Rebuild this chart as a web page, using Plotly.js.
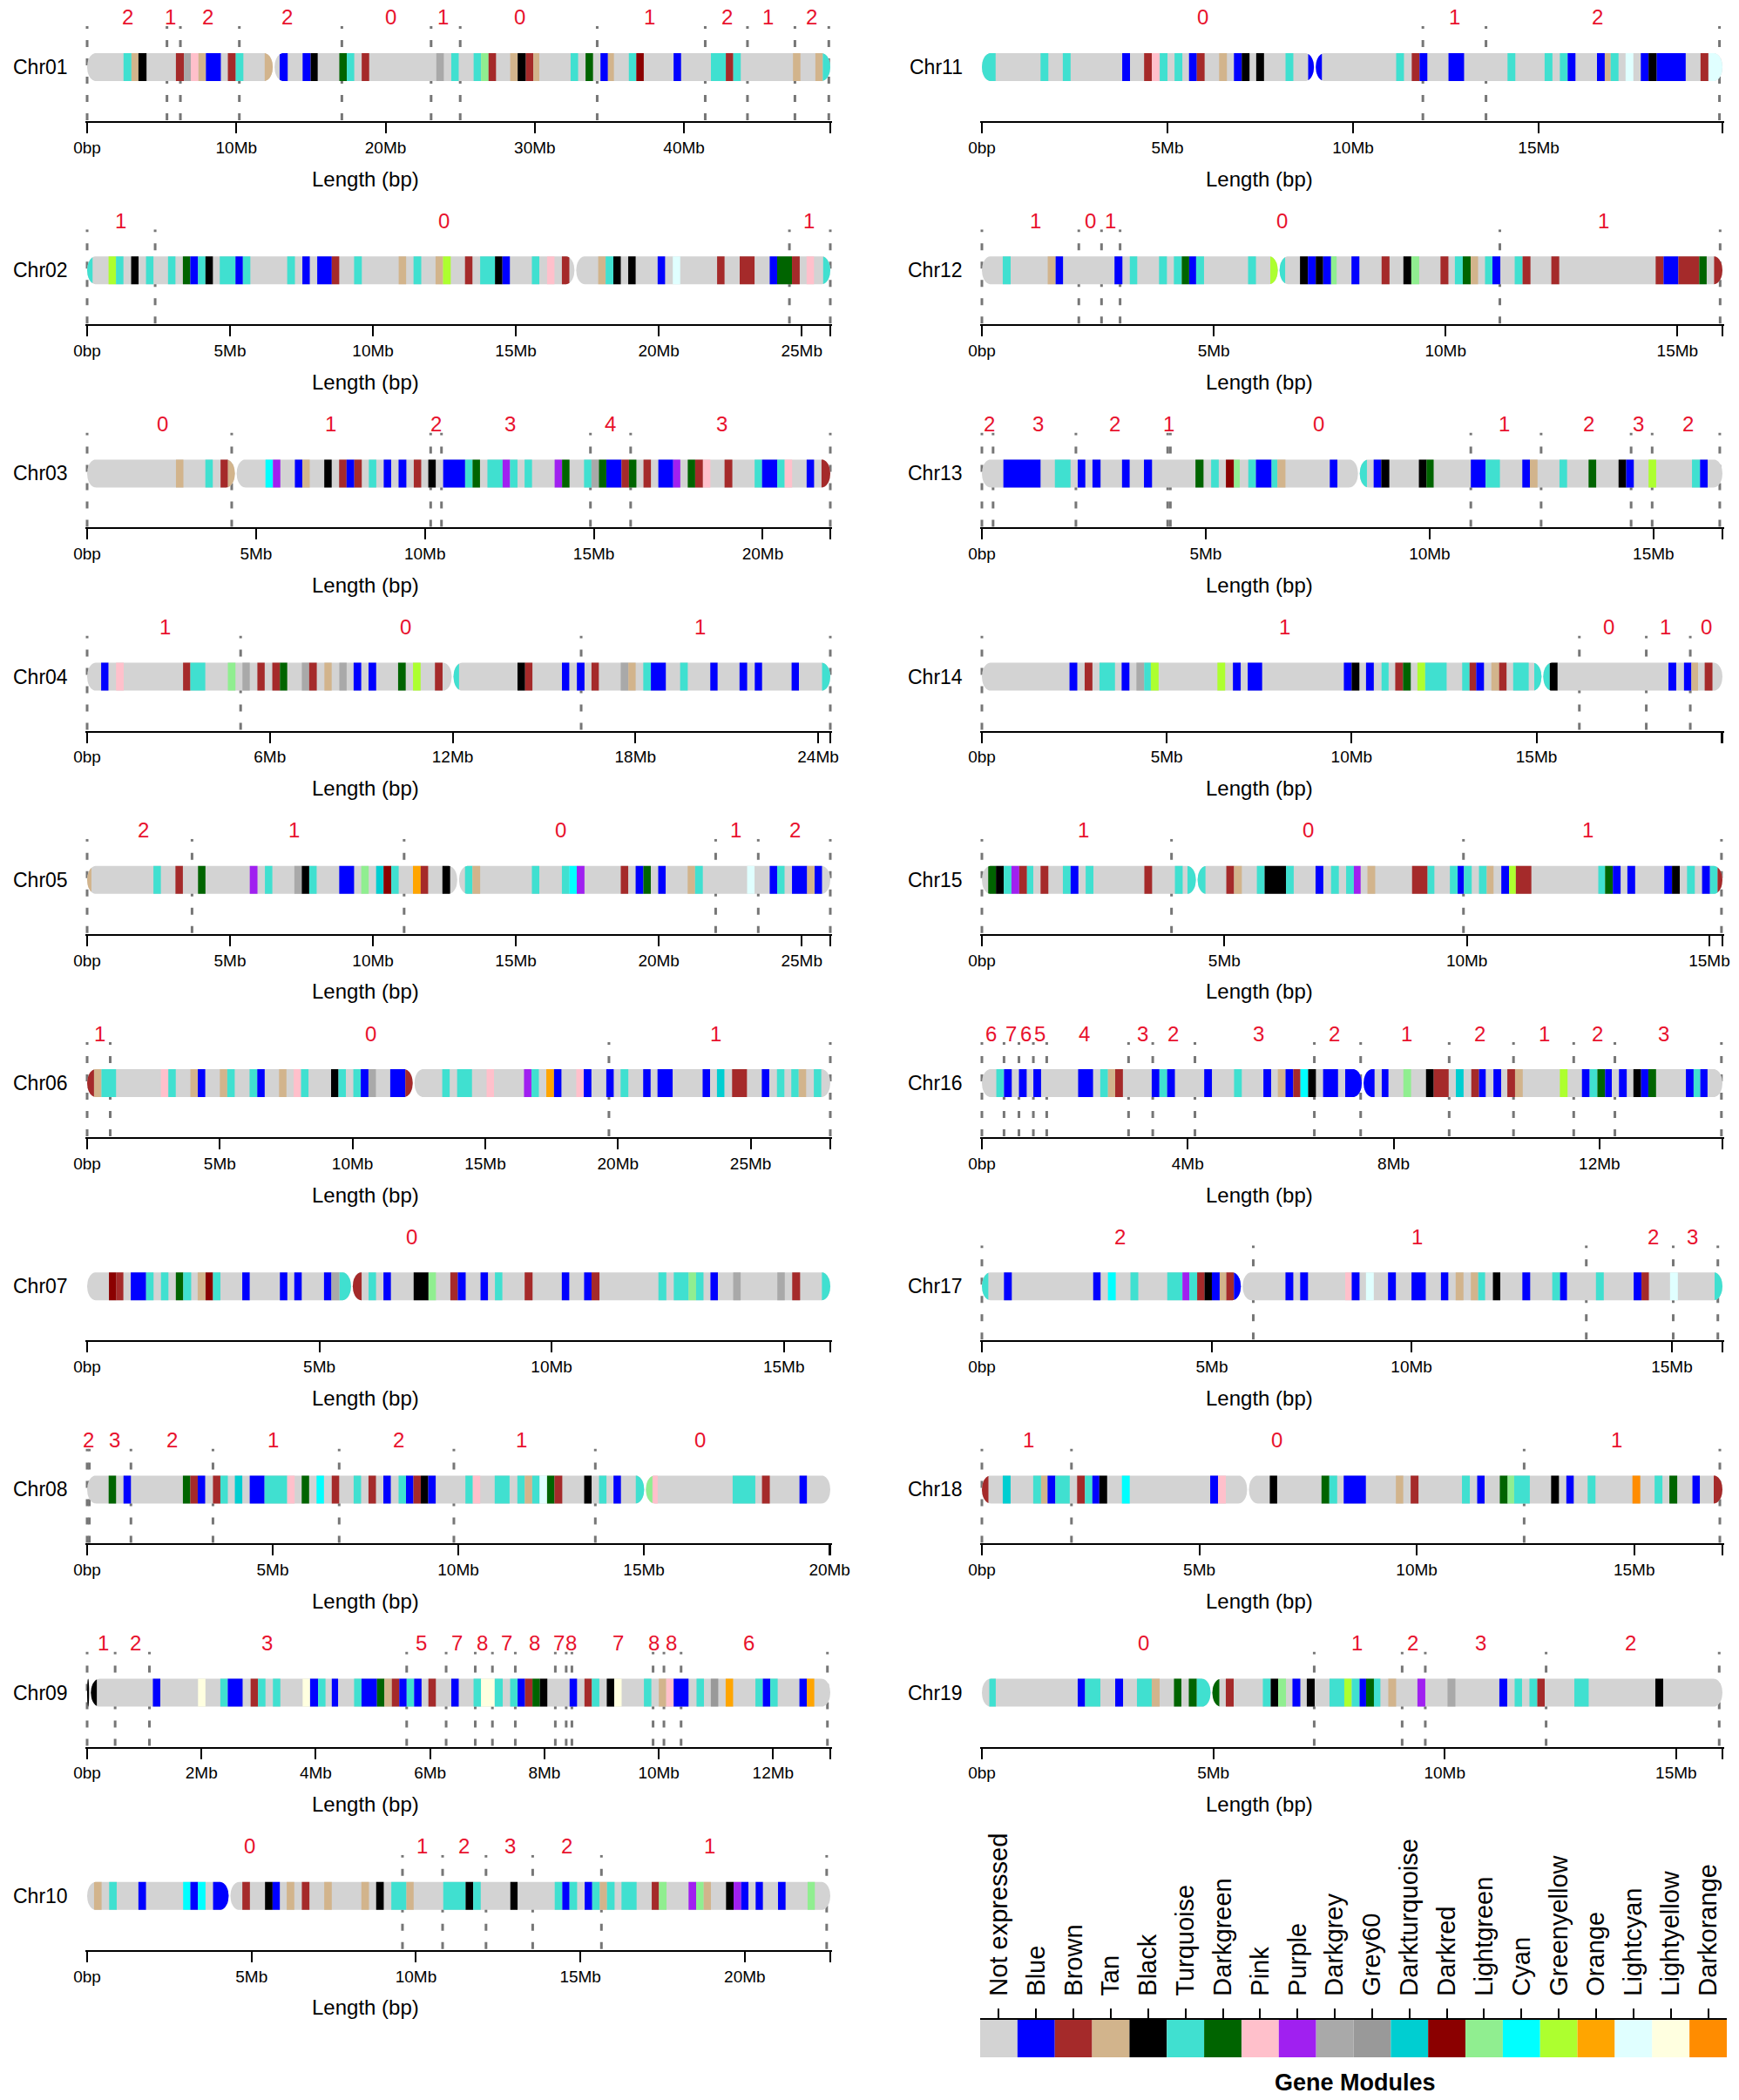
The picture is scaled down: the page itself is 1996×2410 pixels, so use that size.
<!DOCTYPE html>
<html><head><meta charset="utf-8">
<script src="https://cdn.plot.ly/plotly-3.0.1.min.js"></script>
<style>html,body{margin:0;padding:0;background:#fff}</style>
</head><body><div id="chart" style="width:1996px;height:2410px"></div>
<script>
// ---------------- data ----------------
const moduleNames = ['Not expressed','Blue','Brown','Tan','Black','Turquoise','Darkgreen','Pink','Purple','Darkgrey','Grey60','Darkturquoise','Darkred','Lightgreen','Cyan','Greenyellow','Orange','Lightcyan','Lightyellow','Darkorange'];
const moduleColors = ['#D3D3D3','#0000FF','#A52A2A','#D2B48C','#000000','#40E0D0','#006400','#FFC0CB','#A020F0','#A9A9A9','#999999','#00CED1','#8B0000','#90EE90','#00FFFF','#ADFF2F','#FFA500','#E0FFFF','#FFFFE0','#FF8C00'];
const moduleKeys = ['-','B','N','T','K','Q','G','P','U','D','Y','X','R','L','C','Z','O','I','W','A'];

const chrNames = ['Chr01','Chr02','Chr03','Chr04','Chr05','Chr06','Chr07','Chr08','Chr09','Chr10','Chr11','Chr12','Chr13','Chr14','Chr15','Chr16','Chr17','Chr18','Chr19'];
const chrLengthsMb = [49.8,26.0,22.0,24.4,26.0,28.0,16.0,20.02,13.0,22.6,19.95,15.97,16.54,20.03,15.27,14.39,16.1,17.03,16.0];
const centromeresMb = [12.5,17.08,4.4,12.0,12.98,12.3,5.7,15.03,0.05,4.33,8.97,6.4,8.42,15.16,4.43,7.4,5.65,6.12,4.96];
const tickStepMb = [10,5,5,6,5,5,5,5,2,5,5,5,5,5,5,4,5,5,5];
// Chr17 tick marks as drawn in the source figure
const chr17TicksMb = [0, 5, 9.34, 15];
const chr17TickText = ['0bp', '5Mb', '10Mb', '15Mb'];

// dashed boundary positions (Mb)
const boundariesMb = [
 [0,5.35,6.25,10.2,17.07,23.05,25.0,34.18,41.42,44.25,47.43,49.7],
 [0,2.38,24.57,26.0],
 [0,4.28,10.17,10.49,14.9,16.09,22.0],
 [0,5.04,16.22,24.4],
 [0,3.67,11.09,21.99,23.48,26.0],
 [0,0.87,19.66,28.0],
 [],
 [0,0.06,1.18,3.39,6.79,9.88,13.69],
 [0,0.49,1.09,5.59,6.28,6.79,7.09,7.49,8.19,8.38,8.48,9.9,10.09,10.39,12.95],
 [9.59,10.81,12.13,13.55,15.64,22.49],
 [11.88,13.58,19.87],
 [0,2.09,2.58,2.98,11.17,15.92],
 [0,0.25,2.1,4.15,4.21,10.92,12.49,14.5,14.97,16.48],
 [0,16.16,17.97,19.16],
 [0,3.91,9.93,15.25],
 [0,0.43,0.72,1.0,1.26,2.85,3.32,4.14,6.46,7.36,9.08,10.33,11.5,12.3,14.37],
 [0,5.9,13.14,15.03,16.0],
 [0,2.06,12.47,16.97],
 [7.18,9.08,9.58,12.19,15.93]
];
// red segment numbers and their positions (Mb)
const segmentCounts = [
 [2,1,2,2,0,1,0,1,2,1,2],[1,0,1],[0,1,2,3,4,3],[1,0,1],[2,1,0,1,2],[1,0,1],[0],
 [2,3,2,1,2,1,0],[1,2,3,5,7,8,7,8,7,8,7,8,8,6],[0,1,2,3,2,1],[0,1,2],[1,0,1,0,1],
 [2,3,2,1,0,1,2,3,2],[1,0,1,0],[1,0,1],[6,7,6,5,4,3,2,3,2,1,2,1,2,3],[2,1,2,3],[1,0,1],[0,1,2,3,2]
];
const segmentPosMb = [
 [2.69,5.59,8.1,13.37,20.36,23.87,28.96,37.67,42.87,45.63,48.57],
 [1.16,12.47,25.24],
 [2.22,7.21,10.33,12.52,15.48,18.78],
 [2.57,10.46,20.12],
 [1.97,7.23,16.57,22.68,24.78],
 [0.46,10.7,23.67],
 [6.98],
 [0.04,0.73,2.29,5.0,8.4,11.71,16.5],
 [0.28,0.84,3.15,5.85,6.47,6.91,7.34,7.82,8.25,8.46,9.29,9.91,10.22,11.58],
 [4.95,10.18,11.47,12.87,14.58,18.94],
 [5.94,12.73,16.58],
 [1.15,2.34,2.78,6.48,13.4],
 [0.16,1.25,2.97,4.18,7.53,11.66,13.55,14.67,15.78],
 [8.18,16.96,18.48,19.6],
 [2.1,6.73,12.5],
 [0.18,0.57,0.85,1.13,1.99,3.12,3.71,5.37,6.84,8.25,9.68,10.93,11.96,13.25],
 [3.0,9.46,14.6,15.44],
 [1.07,6.78,14.6],
 [3.49,8.1,9.3,10.78,14.01]
];

// gene bands: [start Mb, end Mb, module key]
const chr01Bands = [[2.44,2.97,'Q'],[2.97,3.44,'T'],[3.44,3.98,'K'],[5.95,6.49,'N'],[6.49,6.95,'D'],[6.95,7.46,'P'],[7.46,7.96,'T'],[7.96,8.96,'B'],[9.43,9.96,'N'],[9.96,10.47,'Q'],[11.9,12.5,'T'],[12.9,13.44,'B'],[14.44,14.98,'B'],[14.98,15.45,'K'],[16.9,17.4,'G'],[17.4,17.9,'Q'],[18.4,18.9,'N'],[23.4,23.9,'D'],[24.4,24.9,'Q'],[25.9,26.4,'Q'],[26.4,26.9,'L'],[26.9,27.4,'N'],[28.35,28.85,'T'],[28.85,29.4,'K'],[29.4,29.9,'N'],[29.9,30.3,'T'],[32.4,32.9,'Q'],[33.4,33.9,'G'],[34.4,34.9,'B'],[34.9,35.3,'T'],[36.3,36.8,'Q'],[36.8,37.3,'R'],[39.3,39.8,'B'],[41.8,42.8,'Q'],[42.8,43.3,'N'],[43.3,43.8,'Q'],[47.3,47.8,'T'],[48.8,49.3,'T'],[49.3,49.8,'Q']];
const chr02Bands = [[0,0.19,'Q'],[0.75,1.01,'Z'],[1.01,1.27,'Q'],[1.54,1.8,'K'],[2.06,2.32,'Q'],[2.83,3.09,'Q'],[3.35,3.61,'G'],[3.61,3.88,'B'],[3.88,4.14,'Q'],[4.14,4.4,'K'],[4.64,5.19,'Q'],[5.19,5.45,'B'],[5.45,5.71,'Q'],[7.0,7.27,'Q'],[7.53,7.79,'B'],[8.05,8.56,'B'],[8.56,8.82,'N'],[9.34,9.61,'Q'],[10.9,11.16,'T'],[11.42,11.69,'Q'],[12.19,12.45,'T'],[12.45,12.72,'Z'],[13.22,13.48,'N'],[13.75,14.27,'Q'],[14.27,14.53,'K'],[14.53,14.79,'B'],[15.56,15.82,'Q'],[16.09,16.35,'P'],[16.61,16.87,'N'],[17.88,18.14,'T'],[18.14,18.41,'Q'],[18.41,18.67,'K'],[18.93,19.19,'K'],[19.96,20.22,'B'],[20.49,20.75,'I'],[22.04,22.3,'N'],[22.83,23.35,'N'],[23.88,24.14,'B'],[24.14,24.66,'G'],[24.66,24.93,'N'],[25.17,25.43,'P'],[25.75,26.0,'Q']];
const chr03Bands = [[2.63,2.85,'T'],[3.5,3.72,'Q'],[3.95,4.17,'N'],[4.17,4.4,'T'],[5.28,5.5,'C'],[5.5,5.72,'U'],[6.15,6.37,'B'],[6.37,6.59,'T'],[7.02,7.24,'K'],[7.46,7.68,'N'],[7.68,7.91,'B'],[7.91,8.13,'N'],[8.34,8.56,'Q'],[8.78,9.0,'B'],[9.22,9.45,'B'],[9.67,9.89,'N'],[10.1,10.32,'K'],[10.54,11.19,'B'],[11.19,11.41,'Q'],[11.41,11.63,'G'],[11.85,12.3,'Q'],[12.3,12.52,'U'],[12.52,12.74,'Q'],[12.95,13.17,'Q'],[13.84,14.06,'U'],[14.06,14.28,'G'],[14.71,14.93,'Q'],[14.93,15.15,'D'],[15.15,15.37,'G'],[15.37,15.82,'B'],[15.82,16.04,'N'],[16.04,16.26,'G'],[16.47,16.69,'N'],[16.91,17.35,'B'],[17.35,17.56,'U'],[17.78,18.0,'G'],[18.0,18.23,'N'],[18.23,18.45,'P'],[18.87,19.1,'N'],[19.76,19.98,'Q'],[19.98,20.43,'B'],[20.43,20.65,'Q'],[20.65,20.87,'P'],[21.3,21.52,'B'],[21.74,22.0,'N']];
const chr04Bands = [[0.46,0.7,'B'],[0.95,1.2,'P'],[3.15,3.39,'N'],[3.39,3.88,'Q'],[4.62,4.87,'L'],[5.1,5.34,'D'],[5.59,5.83,'N'],[6.08,6.33,'N'],[6.33,6.57,'G'],[7.05,7.29,'D'],[7.29,7.54,'N'],[7.79,8.03,'T'],[8.28,8.52,'D'],[8.75,9.0,'B'],[9.24,9.49,'B'],[10.21,10.46,'G'],[10.7,10.95,'Z'],[11.42,11.67,'N'],[12.0,12.21,'Q'],[14.13,14.38,'K'],[14.38,14.62,'N'],[15.59,15.83,'B'],[16.08,16.33,'B'],[16.56,16.8,'N'],[17.52,17.77,'D'],[17.77,18.01,'T'],[18.26,18.51,'Q'],[18.51,19.0,'B'],[19.47,19.72,'Q'],[20.46,20.7,'B'],[21.42,21.67,'B'],[21.92,22.16,'B'],[23.13,23.37,'B'],[24.13,24.4,'Q']];
const chr05Bands = [[0,0.15,'T'],[2.32,2.58,'Q'],[3.09,3.35,'N'],[3.88,4.14,'G'],[5.69,5.96,'U'],[6.22,6.48,'Q'],[7.25,7.51,'D'],[7.51,7.77,'K'],[7.77,8.03,'Q'],[8.82,9.34,'B'],[9.59,9.85,'L'],[10.11,10.37,'X'],[10.37,10.64,'R'],[10.64,10.9,'Q'],[11.4,11.67,'O'],[11.67,11.93,'N'],[12.43,12.7,'K'],[13.22,13.48,'Q'],[13.48,13.75,'T'],[15.56,15.82,'Q'],[16.61,16.87,'Q'],[16.87,17.13,'C'],[17.13,17.4,'U'],[18.67,18.93,'N'],[19.19,19.46,'B'],[19.46,19.72,'G'],[19.98,20.24,'B'],[21.01,21.27,'T'],[21.27,21.54,'Q'],[23.09,23.35,'I'],[23.88,24.14,'B'],[24.14,24.4,'Q'],[24.66,25.19,'B'],[25.19,25.45,'T'],[25.45,25.71,'B']];
const chr06Bands = [[0,0.26,'N'],[0.26,0.54,'T'],[0.54,1.09,'Q'],[2.78,3.06,'P'],[3.06,3.34,'Q'],[3.89,4.17,'T'],[4.17,4.45,'B'],[5.0,5.28,'T'],[5.28,5.56,'Q'],[6.12,6.41,'Q'],[6.41,6.69,'B'],[7.23,7.51,'T'],[7.78,8.06,'P'],[8.06,8.34,'Q'],[9.19,9.47,'K'],[9.47,9.75,'Q'],[10.03,10.31,'Q'],[10.31,10.6,'B'],[10.6,10.88,'D'],[11.42,11.99,'B'],[11.99,12.3,'N'],[13.38,13.66,'Q'],[13.94,14.5,'Q'],[15.05,15.33,'P'],[16.46,16.74,'U'],[16.74,17.02,'Q'],[17.3,17.59,'O'],[17.59,17.87,'B'],[18.43,18.71,'P'],[18.71,19.0,'B'],[19.56,19.84,'B'],[20.1,20.39,'Q'],[20.95,21.23,'B'],[21.49,22.06,'B'],[23.19,23.47,'B'],[23.73,24.01,'X'],[24.3,24.86,'N'],[25.42,25.7,'B'],[25.99,26.27,'Q'],[26.53,26.81,'Q'],[26.81,27.09,'T'],[27.38,27.66,'Q']];
const chr07Bands = [[0.47,0.63,'R'],[0.63,0.78,'N'],[0.94,1.27,'B'],[1.27,1.43,'Q'],[1.59,1.75,'Q'],[1.91,2.07,'G'],[2.07,2.24,'Q'],[2.38,2.55,'T'],[2.55,2.71,'R'],[2.71,2.87,'Q'],[3.34,3.5,'B'],[4.15,4.31,'B'],[4.46,4.62,'B'],[5.1,5.26,'B'],[5.26,5.43,'D'],[5.43,5.7,'Q'],[5.7,5.91,'N'],[6.06,6.22,'Q'],[6.38,6.54,'B'],[7.03,7.35,'K'],[7.35,7.51,'L'],[7.82,7.98,'N'],[7.98,8.15,'B'],[8.47,8.63,'B'],[8.78,8.94,'Q'],[9.42,9.59,'N'],[10.22,10.38,'B'],[10.7,10.86,'B'],[10.86,11.03,'N'],[12.3,12.47,'Q'],[12.63,12.95,'Q'],[12.95,13.11,'L'],[13.11,13.27,'Q'],[13.42,13.58,'B'],[13.91,14.07,'D'],[14.86,15.02,'D'],[15.18,15.35,'N'],[15.82,16.0,'Q']];
const chr08Bands = [[0.58,0.78,'G'],[0.98,1.18,'B'],[2.58,2.78,'G'],[2.78,2.98,'N'],[2.98,3.18,'B'],[3.39,3.59,'N'],[3.59,3.79,'Q'],[3.98,4.18,'X'],[4.38,4.78,'B'],[4.78,5.39,'Q'],[5.39,5.59,'P'],[5.78,5.98,'G'],[6.18,6.38,'C'],[6.59,6.79,'N'],[7.18,7.38,'Q'],[7.58,7.78,'N'],[7.98,8.18,'B'],[8.39,8.59,'Q'],[8.59,8.79,'B'],[8.79,8.99,'N'],[8.99,9.19,'K'],[9.19,9.39,'B'],[10.19,10.39,'Q'],[10.39,10.59,'P'],[10.98,11.38,'Q'],[11.59,11.79,'Q'],[11.79,11.99,'T'],[11.99,12.19,'Q'],[12.19,12.39,'I'],[12.39,12.59,'G'],[12.59,12.8,'N'],[13.39,13.59,'K'],[13.79,13.99,'Q'],[14.18,14.38,'B'],[14.78,15.03,'Q'],[15.03,15.23,'L'],[15.23,15.37,'P'],[17.39,18.0,'Q'],[18.18,18.39,'N'],[19.19,19.39,'B']];
const chr09Bands = [[0,0.05,'K'],[0.05,0.17,'K'],[1.15,1.28,'B'],[1.94,2.07,'W'],[2.33,2.46,'Q'],[2.46,2.72,'B'],[2.86,2.99,'N'],[2.99,3.12,'Q'],[3.25,3.38,'Q'],[3.77,3.9,'W'],[3.9,4.04,'B'],[4.04,4.17,'Q'],[4.28,4.39,'B'],[4.67,4.8,'Q'],[4.8,5.07,'B'],[5.07,5.2,'G'],[5.2,5.33,'T'],[5.33,5.46,'N'],[5.46,5.59,'B'],[5.59,5.72,'Q'],[5.72,5.85,'B'],[5.97,6.1,'N'],[6.37,6.5,'B'],[6.76,6.89,'Q'],[6.89,7.13,'W'],[7.13,7.27,'Q'],[7.4,7.53,'Q'],[7.53,7.66,'B'],[7.66,7.79,'N'],[7.79,7.92,'G'],[7.92,8.05,'K'],[8.44,8.57,'B'],[8.7,8.83,'N'],[8.83,8.96,'Q'],[9.09,9.22,'K'],[9.22,9.35,'W'],[9.74,9.87,'Q'],[10.0,10.13,'T'],[10.13,10.26,'P'],[10.26,10.52,'B'],[10.66,10.79,'Q'],[10.91,11.04,'Y'],[11.17,11.3,'O'],[11.69,11.82,'Q'],[11.82,11.95,'B'],[11.95,12.08,'Q'],[12.46,12.59,'B'],[12.59,12.72,'O']];
const chr10Bands = [[0.21,0.44,'T'],[0.67,0.9,'Q'],[1.56,1.79,'B'],[2.92,3.14,'C'],[3.14,3.37,'B'],[3.37,3.6,'C'],[3.83,4.33,'B'],[4.72,4.95,'N'],[5.41,5.64,'K'],[5.64,5.86,'B'],[6.07,6.3,'T'],[6.53,6.76,'N'],[7.21,7.44,'T'],[8.34,8.57,'T'],[8.79,9.02,'K'],[9.25,9.71,'Q'],[9.71,9.93,'T'],[10.83,11.51,'Q'],[11.51,11.74,'K'],[11.74,11.97,'Q'],[12.87,13.09,'K'],[14.22,14.45,'Q'],[14.45,14.67,'B'],[14.67,14.9,'Q'],[15.13,15.36,'B'],[15.36,15.59,'Q'],[15.59,15.81,'T'],[15.81,16.04,'Q'],[16.25,16.71,'Q'],[17.17,17.39,'N'],[17.39,17.62,'L'],[18.29,18.52,'U'],[18.52,18.75,'L'],[18.75,18.97,'T'],[19.43,19.66,'K'],[19.66,19.89,'U'],[19.89,20.11,'B'],[20.33,20.55,'B'],[21.01,21.24,'B'],[21.91,22.13,'L']];
const chr11Bands = [[0,0.37,'Q'],[1.58,1.79,'Q'],[2.18,2.39,'Q'],[3.78,3.99,'B'],[4.37,4.58,'N'],[4.58,4.79,'P'],[4.79,5.0,'Q'],[5.19,5.4,'Q'],[5.58,5.79,'B'],[5.79,6.0,'N'],[6.39,6.6,'T'],[6.79,7.0,'B'],[7.0,7.21,'K'],[7.39,7.6,'K'],[8.18,8.39,'Q'],[8.79,8.97,'B'],[8.97,9.16,'B'],[11.16,11.37,'Q'],[11.58,11.79,'N'],[11.79,12.0,'B'],[12.57,12.99,'B'],[14.16,14.37,'Q'],[15.16,15.37,'Q'],[15.57,15.78,'Q'],[15.78,15.99,'B'],[16.57,16.78,'B'],[16.78,16.94,'T'],[16.94,17.15,'Q'],[17.34,17.55,'I'],[17.75,17.96,'B'],[17.96,18.18,'K'],[18.18,18.96,'B'],[19.36,19.57,'N'],[19.57,19.95,'I']];
const chr12Bands = [[0.45,0.62,'Q'],[1.42,1.59,'T'],[1.59,1.75,'B'],[2.86,3.03,'B'],[3.19,3.35,'Q'],[3.82,3.99,'Q'],[4.14,4.31,'Q'],[4.31,4.47,'G'],[4.47,4.62,'B'],[4.62,4.79,'Q'],[5.74,5.91,'Q'],[6.22,6.4,'Z'],[6.4,6.54,'Q'],[6.86,7.03,'K'],[7.03,7.2,'B'],[7.2,7.36,'K'],[7.36,7.53,'B'],[7.53,7.65,'L'],[7.97,8.14,'B'],[8.62,8.79,'N'],[9.09,9.26,'K'],[9.26,9.43,'L'],[9.89,10.06,'N'],[10.2,10.37,'Q'],[10.37,10.54,'G'],[10.54,10.7,'T'],[10.85,11.01,'Q'],[11.01,11.18,'B'],[11.49,11.66,'Q'],[11.66,11.83,'N'],[12.28,12.45,'N'],[14.53,14.7,'N'],[14.7,15.02,'B'],[15.02,15.47,'N'],[15.47,15.63,'G'],[15.79,15.97,'N']];
const chr13Bands = [[0.48,1.31,'B'],[1.63,1.98,'Q'],[2.14,2.31,'B'],[2.47,2.65,'B'],[3.13,3.3,'B'],[3.62,3.8,'B'],[4.77,4.95,'G'],[5.12,5.29,'Q'],[5.45,5.63,'R'],[5.63,5.76,'L'],[5.95,6.12,'Q'],[6.12,6.47,'B'],[6.47,6.6,'Q'],[6.6,6.78,'T'],[7.77,7.94,'B'],[8.42,8.6,'Q'],[8.75,8.92,'B'],[8.92,9.1,'K'],[9.76,9.93,'K'],[9.93,10.09,'G'],[10.92,11.25,'B'],[11.25,11.57,'Q'],[12.07,12.24,'B'],[12.24,12.41,'T'],[12.9,13.07,'Q'],[13.55,13.72,'G'],[14.22,14.39,'K'],[14.39,14.56,'B'],[14.89,15.06,'Z'],[15.86,16.04,'Q'],[16.04,16.21,'B']];
const chr14Bands = [[2.37,2.58,'B'],[2.78,2.99,'N'],[3.18,3.6,'Q'],[3.78,3.99,'B'],[4.18,4.39,'D'],[4.39,4.57,'Q'],[4.57,4.78,'Z'],[6.37,6.58,'Z'],[6.79,7.0,'B'],[7.19,7.58,'B'],[9.79,10.0,'B'],[10.0,10.21,'K'],[10.39,10.6,'B'],[10.81,11.0,'Q'],[11.18,11.39,'N'],[11.39,11.6,'G'],[11.78,11.99,'Z'],[11.99,12.57,'Q'],[12.99,13.19,'Q'],[13.19,13.37,'N'],[13.37,13.58,'B'],[13.78,13.99,'T'],[13.99,14.19,'N'],[14.37,14.79,'Q'],[14.94,15.16,'Q'],[15.16,15.36,'Q'],[15.36,15.57,'K'],[18.57,18.78,'B'],[18.99,19.19,'B'],[19.19,19.37,'T'],[19.55,19.76,'N']];
const chr15Bands = [[0.13,0.29,'G'],[0.29,0.45,'K'],[0.45,0.61,'Q'],[0.61,0.77,'U'],[0.77,0.93,'N'],[0.93,1.06,'Q'],[1.21,1.37,'N'],[1.67,1.83,'Q'],[1.83,1.99,'B'],[2.14,2.3,'Q'],[3.35,3.51,'N'],[3.98,4.14,'Q'],[4.24,4.43,'Q'],[4.43,4.61,'Q'],[5.04,5.2,'N'],[5.2,5.36,'T'],[5.67,5.83,'Q'],[5.83,6.27,'K'],[6.27,6.43,'Q'],[6.88,7.04,'B'],[7.2,7.36,'Q'],[7.51,7.67,'Q'],[7.67,7.81,'U'],[7.95,8.11,'T'],[8.87,9.19,'N'],[9.19,9.33,'Q'],[9.65,9.81,'Q'],[9.81,9.94,'B'],[9.94,10.1,'Q'],[10.25,10.41,'Q'],[10.41,10.55,'T'],[10.71,10.87,'B'],[10.87,11.01,'Z'],[11.01,11.33,'N'],[12.71,12.85,'Q'],[12.85,13.01,'G'],[13.01,13.17,'B'],[13.31,13.47,'B'],[14.07,14.23,'B'],[14.23,14.39,'K'],[14.54,14.7,'Q'],[14.85,15.01,'B'],[15.01,15.17,'Q'],[15.17,15.27,'N']];
const chr16Bands = [[0.28,0.43,'Q'],[0.43,0.58,'B'],[0.72,0.87,'B'],[1.0,1.15,'B'],[1.87,2.16,'B'],[2.3,2.45,'Q'],[2.45,2.59,'T'],[2.59,2.74,'N'],[3.3,3.45,'B'],[3.45,3.6,'Q'],[3.6,3.75,'B'],[4.32,4.47,'B'],[4.9,5.05,'Q'],[5.47,5.62,'B'],[5.75,5.9,'T'],[5.9,6.05,'B'],[6.05,6.19,'N'],[6.19,6.34,'C'],[6.34,6.49,'K'],[6.63,6.92,'B'],[7.06,7.4,'B'],[7.4,7.63,'B'],[7.77,7.9,'B'],[8.19,8.34,'L'],[8.63,8.78,'K'],[8.78,9.07,'N'],[9.21,9.36,'X'],[9.51,9.66,'N'],[9.66,9.79,'B'],[9.94,10.09,'B'],[10.21,10.36,'N'],[10.36,10.51,'T'],[11.23,11.38,'Z'],[11.66,11.81,'B'],[11.81,11.96,'Q'],[11.96,12.11,'G'],[12.11,12.24,'B'],[12.38,12.53,'B'],[12.66,12.81,'K'],[12.81,12.95,'B'],[12.95,13.1,'G'],[13.68,13.83,'B'],[13.83,13.96,'Q'],[13.96,14.1,'B']];
const chr17Bands = [[0,0.14,'Q'],[0.48,0.65,'B'],[2.42,2.58,'B'],[2.74,2.91,'C'],[3.23,3.4,'Q'],[4.03,4.36,'Q'],[4.36,4.51,'U'],[4.51,4.68,'Q'],[4.68,4.84,'N'],[4.84,5.0,'K'],[5.0,5.17,'B'],[5.17,5.31,'T'],[5.31,5.48,'N'],[5.48,5.65,'B'],[6.6,6.77,'B'],[6.92,7.09,'B'],[7.9,8.04,'P'],[8.04,8.21,'B'],[8.35,8.52,'I'],[8.83,9.0,'B'],[9.34,9.65,'B'],[9.98,10.14,'B'],[10.3,10.47,'T'],[10.63,10.79,'T'],[10.79,10.94,'Q'],[11.11,11.27,'K'],[11.75,11.92,'B'],[12.4,12.57,'Q'],[12.57,12.72,'B'],[13.35,13.52,'Q'],[14.17,14.34,'B'],[14.34,14.5,'N'],[14.96,15.13,'I'],[15.93,16.1,'Q']];
const chr18Bands = [[0,0.15,'N'],[0.48,0.66,'X'],[1.18,1.36,'Q'],[1.36,1.51,'T'],[1.51,1.69,'B'],[1.69,2.02,'Q'],[2.19,2.37,'N'],[2.37,2.54,'Q'],[2.54,2.7,'B'],[2.7,2.88,'K'],[3.22,3.4,'C'],[5.25,5.43,'B'],[5.43,5.61,'P'],[6.62,6.79,'K'],[7.81,7.99,'G'],[7.99,8.17,'Q'],[8.32,8.83,'B'],[9.52,9.69,'T'],[9.86,10.04,'N'],[11.04,11.22,'Q'],[11.39,11.56,'B'],[11.91,12.09,'G'],[12.09,12.24,'L'],[12.24,12.6,'Q'],[13.09,13.27,'K'],[13.44,13.61,'B'],[13.93,14.11,'Q'],[14.96,15.14,'A'],[15.47,15.65,'Q'],[15.81,15.99,'G'],[16.34,16.51,'B'],[16.83,17.03,'N']];
const chr19Bands = [[0.16,0.3,'Q'],[2.07,2.23,'B'],[2.23,2.56,'Q'],[2.88,3.05,'B'],[3.35,3.67,'Q'],[3.67,3.84,'T'],[4.15,4.31,'G'],[4.47,4.64,'G'],[4.64,4.96,'Q'],[4.96,5.13,'G'],[5.27,5.44,'N'],[6.07,6.24,'Q'],[6.24,6.4,'K'],[6.4,6.57,'L'],[6.71,6.88,'B'],[7.02,7.19,'K'],[7.51,7.83,'Q'],[7.83,7.99,'Z'],[7.99,8.16,'Q'],[8.16,8.3,'B'],[8.3,8.47,'G'],[8.47,8.61,'Q'],[8.78,8.95,'T'],[9.41,9.58,'U'],[10.06,10.23,'D'],[11.18,11.35,'B'],[11.51,11.67,'Q'],[11.83,12.0,'Q'],[12.0,12.16,'N'],[12.8,13.11,'Q'],[14.55,14.72,'K']];
const allBands = [chr01Bands,chr02Bands,chr03Bands,chr04Bands,chr05Bands,chr06Bands,chr07Bands,chr08Bands,chr09Bands,chr10Bands,chr11Bands,chr12Bands,chr13Bands,chr14Bands,chr15Bands,chr16Bands,chr17Bands,chr18Bands,chr19Bands];

// ---------------- layout & drawing ----------------
const W = 1996, H = 2410;
const FONT = 'Liberation Sans, Arial, sans-serif';
const colX = [[100, 953], [1127, 1977]];
const ROW0 = 77, ROWSTEP = 233.2;
const HALF = 16;          // half thickness of chromosome (px == y units)
const RX_PX = 10;         // horizontal radius of rounded ends (px)
const YMIN = -62, YMAX = 47;
const keyColor = k => moduleColors[moduleKeys.indexOf(k)];

const traces = [], dashShapes = [], bodyShapes = [], capShapes = [], annotations = [];
const layout = {
  width: W, height: H, margin: {l:0, r:0, t:0, b:0},
  paper_bgcolor: '#fff', plot_bgcolor: 'rgba(0,0,0,0)',
  barmode: 'overlay', showlegend: false, hovermode: false,
  font: {family: FONT, color: '#000'}
};

// upper outline of a rounded arm [a,b] at x
function upperY(x, a, b, rx) {
  if (x < a + rx) { const t = (a + rx - x) / rx; return HALF * Math.sqrt(Math.max(0, 1 - t * t)); }
  if (x > b - rx) { const t = (x - (b - rx)) / rx; return HALF * Math.sqrt(Math.max(0, 1 - t * t)); }
  return HALF;
}
// outline of the part [s,e] of a rounded arm [a,b], in data coordinates
function armPiecePath(s, e, a, b, rx) {
  const xs = [s, e];
  const N = 18;
  for (let k = 0; k <= N; k++) { xs.push(a + rx * k / N); xs.push(b - rx + rx * k / N); }
  const pts = [...new Set(xs.filter(x => x >= s - 1e-12 && x <= e + 1e-12))].sort((p, q) => p - q);
  let d = '';
  pts.forEach((x, k) => { d += (k === 0 ? 'M' : 'L') + x.toFixed(5) + ',' + upperY(x, a, b, rx).toFixed(3); });
  for (let k = pts.length - 1; k >= 0; k--) d += 'L' + pts[k].toFixed(5) + ',' + (-upperY(pts[k], a, b, rx)).toFixed(3);
  return d + 'Z';
}
function barTrace(xa, ya, items) {
  return {
    type: 'bar', orientation: 'h', xaxis: xa, yaxis: ya,
    y: items.map(() => 0), base: items.map(d => d[0]), x: items.map(d => d[1]),
    width: items.map(() => 2 * HALF),
    marker: {color: items.map(d => d[2]), line: {width: 0}},
    hoverinfo: 'skip', showlegend: false
  };
}

chrNames.forEach((name, i) => {
  const n = i + 1, sfx = n === 1 ? '' : String(n);
  const xa = 'x' + sfx, ya = 'y' + sfx;
  const col = i < 10 ? 0 : 1, row = i < 10 ? i : i - 10;
  const c = ROW0 + ROWSTEP * row;
  const [p0, p1] = colX[col];
  const L = chrLengthsMb[i];
  const mbPerPx = L / (p1 - p0);
  const pad = 2 * mbPerPx;

  let tv = [], tt = [];
  if (name === 'Chr17') { tv = chr17TicksMb.slice(); tt = chr17TickText.slice(); }
  else for (let v = 0; v <= L + 1e-9; v += tickStepMb[i]) { tv.push(v); tt.push(v === 0 ? '0bp' : v + 'Mb'); }
  tv.push(L); tt.push('');

  layout['xaxis' + sfx] = {
    domain: [(p0 - 2) / W, (p1 + 2) / W], range: [-pad, L + pad], anchor: ya,
    showline: true, linecolor: '#000', linewidth: 2, ticks: 'outside', ticklen: 12,
    tickwidth: 2, tickcolor: '#000', tickvals: tv, ticktext: tt,
    tickfont: {size: 19, family: FONT, color: '#000'},
    showgrid: false, zeroline: false, fixedrange: true
  };
  layout['yaxis' + sfx] = {
    domain: [1 - (c - YMIN) / H, 1 - (c - YMAX) / H], range: [YMIN, YMAX], anchor: xa,
    visible: false, fixedrange: true
  };

  // chromosome body: two arms with rounded ends meeting at the centromere
  const cen = centromeresMb[i], g = 1 * mbPerPx;
  const arms = [[0, cen - g], [cen + g, L]].map(([a, b]) => [a, b, Math.min(RX_PX * mbPerPx, (b - a) / 2)]);
  arms.forEach(([a, b, rx]) => bodyShapes.push({
    type: 'path', xref: xa, yref: ya, path: armPiecePath(a, b, a, b, rx),
    fillcolor: moduleColors[0], line: {width: 0}, layer: 'below'
  }));

  // gene bands
  const flat = [], tol = 2 * mbPerPx;
  allBands[i].forEach(([s, e, k]) => {
    const ai = (s + e) / 2 < cen ? 0 : 1;
    const [a, b, rx] = arms[ai];
    let s2 = Math.max(s, a), e2 = Math.min(e, b);
    if (s2 <= a + tol) s2 = a;
    if (e2 >= b - tol) e2 = b;
    if (e2 <= s2) return;
    const colr = keyColor(k);
    if (s2 < a + rx || e2 > b - rx) {
      capShapes.push({type: 'path', xref: xa, yref: ya, path: armPiecePath(s2, e2, a, b, rx),
        fillcolor: colr, line: {width: 0}, layer: 'below'});
    } else flat.push([s2, e2 - s2, colr]);
  });
  traces.push(barTrace(xa, ya, flat));

  // dashed boundaries
  boundariesMb[i].forEach(p => dashShapes.push({
    type: 'line', xref: xa, yref: ya, x0: p, x1: p, y0: YMIN + 1, y1: YMAX,
    line: {color: '#767676', width: 3, dash: '8px,13px'}, layer: 'below'
  }));

  // red segment numbers
  segmentCounts[i].forEach((cnt, j) => annotations.push({
    xref: xa, yref: 'paper', x: segmentPosMb[i][j], y: 1 - (c - 57) / H,
    text: String(cnt), showarrow: false, xanchor: 'center', yanchor: 'middle',
    font: {size: 24, color: '#E8112D', family: FONT}
  }));

  // chromosome label
  annotations.push({xref: 'paper', yref: 'paper', x: (p0 - 20) / W, y: 1 - c / H, text: name,
    showarrow: false, xanchor: 'right', yanchor: 'middle', font: {size: 23, family: FONT, color: '#000'}});
  // axis title
  annotations.push({xref: 'paper', yref: 'paper', x: (p0 + 0.375 * (p1 - p0)) / W, y: 1 - (c + 128) / H,
    text: 'Length (bp)', showarrow: false, xanchor: 'center', yanchor: 'middle',
    font: {size: 24, family: FONT, color: '#000'}});
});

// legend strip
const legIdx = moduleNames.map((_, k) => k);
layout.xaxis20 = {
  domain: [1125 / W, 1982 / W], range: [-0.5, moduleNames.length - 0.5], anchor: 'y20', side: 'top',
  showline: true, linecolor: '#000', linewidth: 2, ticks: 'outside', ticklen: 11, tickwidth: 2,
  tickcolor: '#000', tickvals: legIdx, ticktext: moduleNames, tickangle: -90,
  tickfont: {size: 29, family: FONT, color: '#000'}, ticklabelstandoff: 8,
  showgrid: false, zeroline: false, fixedrange: true
};
layout.yaxis20 = {domain: [1 - 2361 / H, 1 - 2317.5 / H], range: [0, 1], anchor: 'x20', visible: false, fixedrange: true};
traces.push({type: 'bar', xaxis: 'x20', yaxis: 'y20', x: legIdx, y: legIdx.map(() => 1), base: legIdx.map(() => 0),
  width: legIdx.map(() => 1), marker: {color: moduleColors, line: {width: 0}}, hoverinfo: 'skip', showlegend: false});
annotations.push({xref: 'paper', yref: 'paper', x: 1555 / W, y: 1 - 2390 / H, text: '<b>Gene Modules</b>',
  showarrow: false, xanchor: 'center', yanchor: 'middle', font: {size: 27, family: FONT, color: '#000'}});

layout.shapes = dashShapes.concat(bodyShapes, capShapes);
layout.annotations = annotations;
Plotly.newPlot('chart', traces, layout, {displayModeBar: false, staticPlot: true});
</script></body></html>
